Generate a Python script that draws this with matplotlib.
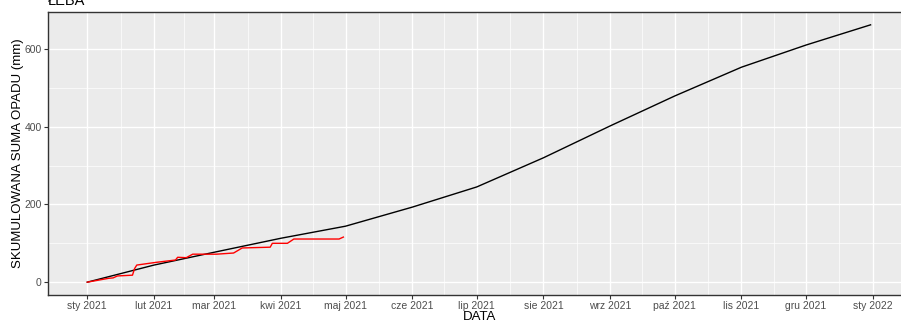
import numpy as np
import pandas as pd
import matplotlib
matplotlib.use("Agg")
import matplotlib.pyplot as plt
import matplotlib.dates as mdates

plt.rcParams['font.family'] = ['Liberation Sans', 'DejaVu Sans']

# norma - skumulowana suma opadu (wartosci na poczatek miesiaca)
norm_dates = ['2021-01-01', '2021-02-01', '2021-03-01', '2021-04-01', '2021-05-01',
              '2021-06-01', '2021-07-01', '2021-08-01', '2021-09-01', '2021-10-01',
              '2021-11-01', '2021-12-01', '2021-12-31']
norm_vals = [0, 44, 77, 113, 144, 193, 245, 320, 402, 479, 553, 610, 662]

# opad rzeczywisty 2021
obs_dates = ['2021-01-01', '2021-01-11', '2021-01-13', '2021-01-15', '2021-01-22',
             '2021-01-23', '2021-01-24', '2021-02-02', '2021-02-11', '2021-02-12',
             '2021-02-16', '2021-02-19', '2021-03-02', '2021-03-10', '2021-03-14',
             '2021-03-27', '2021-03-28', '2021-04-04', '2021-04-07', '2021-04-28',
             '2021-04-30']
obs_vals = [0, 10, 11, 16, 18, 35, 44, 51, 57, 64, 63, 72, 72, 75, 88, 90, 100, 100,
            111, 111, 116]

month_labels = ['sty 2021', 'lut 2021', 'mar 2021', 'kwi 2021', 'maj 2021', 'cze 2021',
                'lip 2021', 'sie 2021', 'wrz 2021', 'paź 2021', 'lis 2021', 'gru 2021',
                'sty 2022']

nd = pd.to_datetime(norm_dates)
od = pd.to_datetime(obs_dates)

fig = plt.figure(figsize=(9.01, 3.23), dpi=100)
W, H = 901, 323
ax = fig.add_axes([48 / W, 28 / H, (912 - 48) / W, (295 - 12) / H])
ax.set_facecolor('#EBEBEB')

majors = pd.date_range('2021-01-01', '2022-01-01', freq='MS')
mnum = mdates.date2num(majors)
minors = (mnum[:-1] + mnum[1:]) / 2
ax.set_xticks(mnum)
ax.set_xticklabels(month_labels)
ax.set_xticks(minors, minor=True)
ax.set_yticks([0, 200, 400, 600])
ax.set_yticks([100, 300, 500], minor=True)

ax.grid(True, which='major', color='white', lw=1.0)
ax.grid(True, which='minor', color='white', lw=0.5)
ax.set_axisbelow(True)

ax.plot(nd, norm_vals, color='black', lw=1.0)
ax.plot(od, obs_vals, color='red', lw=1.0)

span = mdates.date2num(pd.Timestamp('2022-01-01')) - mnum[0]
ax.set_xlim(mnum[0] - 0.05 * span, mnum[-1] + 0.05 * span)
ax.set_ylim(-33, 695)

for s in ax.spines.values():
    s.set_color('#333333')
    s.set_linewidth(1.0)

ax.tick_params(which='major', length=3, color='#333333', labelsize=7.5,
               labelcolor='#4D4D4D', pad=1.5)
ax.tick_params(which='minor', length=0)

ax.set_xlabel('DATA', fontsize=9.5, labelpad=0)
ax.set_ylabel('SKUMULOWANA SUMA OPADU (mm)', fontsize=9.5, labelpad=0)

fig.text(48 / W, 1 - 5 / H, 'ŁEBA', fontsize=10.5, ha='left', va='baseline')

fig.savefig('out.png', dpi=100)
